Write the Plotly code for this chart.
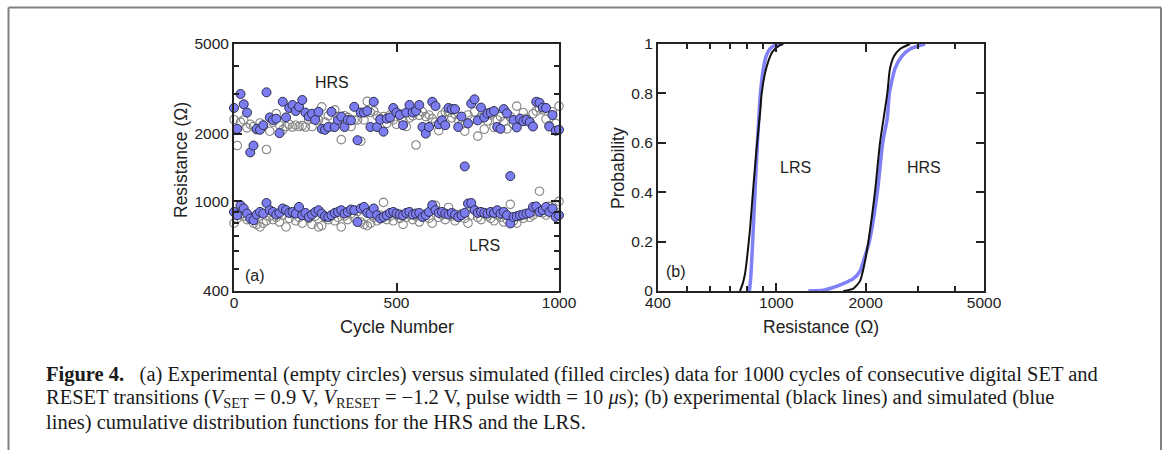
import math
import plotly.graph_objects as go

W, H = 1167, 450

# ---------------- data ----------------
cycles = [0, 10, 20, 30, 40, 50, 60, 70, 80, 90, 100, 110, 120, 130, 140, 150, 160, 170, 180, 190,
          200, 210, 220, 230, 240, 250, 260, 270, 280, 290, 300, 310, 320, 330, 340, 350, 360, 370, 380, 390,
          400, 410, 420, 430, 440, 450, 460, 470, 480, 490, 500, 510, 520, 530, 540, 550, 560, 570, 580, 590,
          600, 610, 620, 630, 640, 650, 660, 670, 680, 690, 700, 710, 720, 730, 740, 750, 760, 770, 780, 790,
          800, 810, 820, 830, 840, 850, 860, 870, 880, 890, 900, 910, 920, 930, 940, 950, 960, 970, 980, 990, 1000]

hrs_sim = [2600, 2100, 3000, 2700, 2480, 1650, 1770, 2100, 2080, 2180, 3050, 2360, 2300, 2330, 2010, 2770, 2360, 2600, 2680, 2520,
           2630, 2820, 2480, 2380, 2450, 2300, 2500, 2100, 2080, 2140, 2500, 2140, 2300, 2380, 2140, 2300, 2290, 2630, 1870, 2480,
           2480, 2520, 2140, 2770, 2140, 2310, 2040, 2330, 2360, 2600, 2480, 2420, 2180, 2480, 2680, 2480, 2520, 2680, 2140, 2000,
           2140, 2770, 2650, 2200, 2290, 2180, 2600, 2570, 2570, 2140, 2380, 1430, 2220, 2720, 2840, 2290, 2610, 2360, 2460, 2480,
           2520, 2140, 2100, 2570, 2460, 1295, 2300, 2130, 2330, 2270, 2300, 2250, 2150, 2770, 2740, 2610, 2600, 2150, 2420, 2060, 2080]

hrs_exp = [2310, 1770, 2250, 2300, 2120, 2200, 2150, 2080, 2230, 2150, 1700, 2050, 2250, 2450, 2180, 2080, 2150, 2200, 2140, 2180,
           2150, 2170, 2140, 2300, 2150, 2340, 2300, 2630, 2250, 2400, 2140, 2550, 2380, 1880, 2400, 2360, 2150, 2300, 2300, 1850,
           2300, 2780, 2480, 2520, 2400, 2330, 2380, 2220, 2420, 2300, 2200, 2450, 2280, 2150, 2350, 2400, 1780, 2410, 2500, 2380,
           2420, 2330, 2250, 2060, 2420, 2500, 2480, 2350, 2440, 2300, 2200, 2050, 2420, 2300, 2500, 1950, 2350, 2090, 2280, 2420,
           2130, 2300, 2380, 2260, 2100, 2380, 2200, 2650, 2300, 2480, 2340, 2250, 2450, 2520, 2600, 2550, 2320, 2170, 2500, 2220, 2650]

lrs_sim = [898, 868, 962, 930, 883, 839, 825, 874, 898, 883, 984, 914, 898, 874, 889, 930, 914, 889, 898, 883,
           945, 868, 889, 853, 874, 898, 914, 883, 859, 853, 868, 889, 898, 914, 883, 898, 920, 914, 810, 930,
           945, 889, 883, 930, 868, 839, 853, 868, 889, 898, 883, 874, 868, 889, 898, 874, 883, 889, 853, 868,
           898, 962, 914, 889, 898, 883, 874, 889, 874, 853, 868, 889, 978, 984, 914, 889, 898, 889, 883, 898,
           889, 914, 883, 898, 868, 798, 853, 859, 868, 874, 883, 889, 945, 950, 898, 914, 945, 898, 930, 853, 868]

lrs_exp = [800, 840, 880, 860, 830, 850, 800, 790, 770, 800, 820, 860, 830, 850, 810, 870, 770, 840, 880, 820,
           850, 800, 870, 840, 790, 860, 770, 780, 850, 830, 870, 820, 850, 770, 860, 830, 880, 850, 900, 810,
           790, 780, 800, 850, 820, 870, 990, 830, 860, 820, 870, 840, 790, 850, 870, 830, 860, 810, 850, 880,
           840, 800, 960, 850, 870, 830, 940, 860, 820, 850, 880, 840, 800, 870, 920, 850, 830, 880, 860, 840,
           820, 870, 850, 810, 830, 970, 820, 800, 860, 840, 880, 850, 870, 900, 1110, 890, 870, 950, 900, 960, 1000]

# CDFs (panel b)
cdf_lrs_exp_r = [755, 771, 785, 795, 816, 837, 859, 882, 893, 916, 940, 973, 1029, 1056]
cdf_lrs_exp_p = [0, 0.03, 0.07, 0.12, 0.25, 0.42, 0.58, 0.72, 0.80, 0.88, 0.93, 0.97, 0.995, 1]
cdf_lrs_sim_r = [812, 820, 833, 848, 864, 882, 893, 905, 924, 952, 990, 1029]
cdf_lrs_sim_p = [0, 0.05, 0.2, 0.4, 0.6, 0.78, 0.85, 0.9, 0.95, 0.98, 0.995, 1]
cdf_hrs_exp_r = [1681, 1817, 1913, 1973, 2041, 2148, 2234, 2364, 2413, 2489, 2608, 2818]
cdf_hrs_exp_p = [0, 0.01, 0.04, 0.1, 0.2, 0.4, 0.6, 0.8, 0.9, 0.95, 0.98, 1]
cdf_hrs_sim_r = [1282, 1440, 1516, 1681, 1817, 1913, 1964, 2056, 2188, 2281, 2364, 2401, 2509, 2642, 2818, 3165]
cdf_hrs_sim_p = [0, 0.003, 0.01, 0.03, 0.05, 0.08, 0.12, 0.2, 0.4, 0.6, 0.7, 0.8, 0.9, 0.95, 0.98, 1]

log_ticks = [400, 1000, 2000, 5000]
log_minor = [500, 600, 700, 800, 900, 3000, 4000]
prob_ticks = [0, 0.2, 0.4, 0.6, 0.8, 1]

# ---------------- style ----------------
BLUE_FILL = "#7b7cf0"
BLUE_LINE = "#7f80f6"
DARK = "#222222"
GRAY = "#858585"
SANS = "Liberation Sans, Arial, Helvetica, sans-serif"
SERIF = "Liberation Serif, Times New Roman, serif"

fig = go.Figure()

# panel (a)
for ys in (hrs_exp, lrs_exp):
    fig.add_trace(go.Scatter(x=cycles, y=ys, mode="markers", xaxis="x", yaxis="y",
                             cliponaxis=False, showlegend=False,
                             marker=dict(size=8.5, color="rgba(255,255,255,0)",
                                         line=dict(color=GRAY, width=1.1))))
for ys in (hrs_sim, lrs_sim):
    fig.add_trace(go.Scatter(x=cycles, y=ys, mode="markers", xaxis="x", yaxis="y",
                             cliponaxis=False, showlegend=False,
                             marker=dict(size=9, color=BLUE_FILL,
                                         line=dict(color="#2e2e50", width=1))))

# panel (b)
for xr, yp in ((cdf_lrs_sim_r, cdf_lrs_sim_p), (cdf_hrs_sim_r, cdf_hrs_sim_p)):
    fig.add_trace(go.Scatter(x=xr, y=yp, mode="lines", xaxis="x2", yaxis="y2", showlegend=False,
                             line=dict(color=BLUE_LINE, width=3.5, shape="spline", smoothing=0.6)))
for xr, yp in ((cdf_lrs_exp_r, cdf_lrs_exp_p), (cdf_hrs_exp_r, cdf_hrs_exp_p)):
    fig.add_trace(go.Scatter(x=xr, y=yp, mode="lines", xaxis="x2", yaxis="y2", showlegend=False,
                             line=dict(color="#111111", width=2, shape="spline", smoothing=0.6)))

axis_common = dict(showline=True, linecolor=DARK, linewidth=2, mirror="ticks",
                   ticks="inside", ticklen=8, tickwidth=2, tickcolor=DARK,
                   showgrid=False, zeroline=False, automargin=False,
                   tickfont=dict(family=SANS, size=15.5, color=DARK))
minor_common = dict(ticks="inside", ticklen=5, tickwidth=1.5, tickcolor=DARK, showgrid=False)

ydom = [(H - 291) / H, (H - 44) / H]
fig.update_layout(
    template="none",
    width=W, height=H, autosize=False,
    margin=dict(l=0, r=0, t=0, b=0, pad=0, autoexpand=False),
    paper_bgcolor="white", plot_bgcolor="white",
    xaxis=dict(domain=[234 / W, 559 / W], anchor="y", range=[0, 1000],
               tickvals=[0, 500, 1000], ticklabelstandoff=-4, **axis_common),
    yaxis=dict(domain=ydom, anchor="x", type="log",
               range=[math.log10(400), math.log10(5000)],
               tickvals=log_ticks, ticktext=[str(v) for v in log_ticks],
               minor=dict(tickvals=log_minor, **minor_common), **axis_common),
    xaxis2=dict(domain=[658 / W, 984 / W], anchor="y2", type="log",
                range=[math.log10(400), math.log10(5000)],
                tickvals=log_ticks, ticktext=[str(v) for v in log_ticks], ticklabelstandoff=-4,
                minor=dict(tickvals=log_minor, **minor_common), **axis_common),
    yaxis2=dict(domain=ydom, anchor="x2", range=[0, 1],
                tickvals=prob_ticks, ticktext=["0", "0.2", "0.4", "0.6", "0.8", "1"],
                **axis_common),
)

def px(x, y):
    return x / W, 1 - y / H

anns = []
def add_text(text, x, y, size=17, family=SANS, angle=0, xanchor="center", color=DARK):
    xx, yy = px(x, y)
    anns.append(dict(text=text, x=xx, y=yy, xref="paper", yref="paper", showarrow=False,
                     xanchor=xanchor, yanchor="middle", textangle=angle,
                     font=dict(family=family, size=size, color=color)))

# axis titles
add_text("Resistance (\u03a9)", 181, 160, size=17.5, angle=-90)
add_text("Cycle Number", 397, 327, size=18)
add_text("Probability", 618, 168, size=17.5, angle=-90)
add_text("Resistance (\u03a9)", 821, 327, size=17.5)
# in-panel labels
add_text("HRS", 332, 82, size=16)
add_text("LRS", 484, 246, size=16)
add_text("(a)", 255, 275, size=16)
add_text("LRS", 795, 168, size=16)
add_text("HRS", 924, 168, size=16)
add_text("(b)", 676, 271, size=16)

# caption
cap1 = ("<b>Figure\u00a04.</b>\u00a0\u00a0 (a) Experimental (empty circles) versus simulated (filled circles) "
        "data for 1000 cycles of consecutive digital SET and")
cap2 = ("RESET transitions (<i>V</i><sub>SET</sub> = 0.9 V, <i>V</i><sub>RESET</sub> = \u22121.2 V, "
        "pulse width = 10 <i>\u03bc</i>s); (b) experimental (black lines) and simulated (blue")
cap3 = "lines) cumulative distribution functions for the HRS and the LRS."
for t, yy in ((cap1, 374), (cap2, 398), (cap3, 422)):
    add_text(t, 44, yy, size=20.5, family=SERIF, xanchor="left", color="#1a1a1a")

fig.update_layout(annotations=anns)

# page frame
fx0, fx1, fy = 8.5 / W, 1161 / W, 1 - 7.5 / H
fig.update_layout(shapes=[
    dict(type="line", xref="paper", yref="paper", x0=fx0, x1=fx1, y0=fy, y1=fy,
         line=dict(color="#808080", width=2)),
    dict(type="line", xref="paper", yref="paper", x0=fx0, x1=fx0, y0=0, y1=fy,
         line=dict(color="#808080", width=2)),
    dict(type="line", xref="paper", yref="paper", x0=fx1, x1=fx1, y0=0, y1=fy,
         line=dict(color="#808080", width=2)),
])

fig.write_html("out.html", config={"displayModeBar": False},
               post_script="document.body.style.margin='0';document.body.style.overflow='hidden';")
